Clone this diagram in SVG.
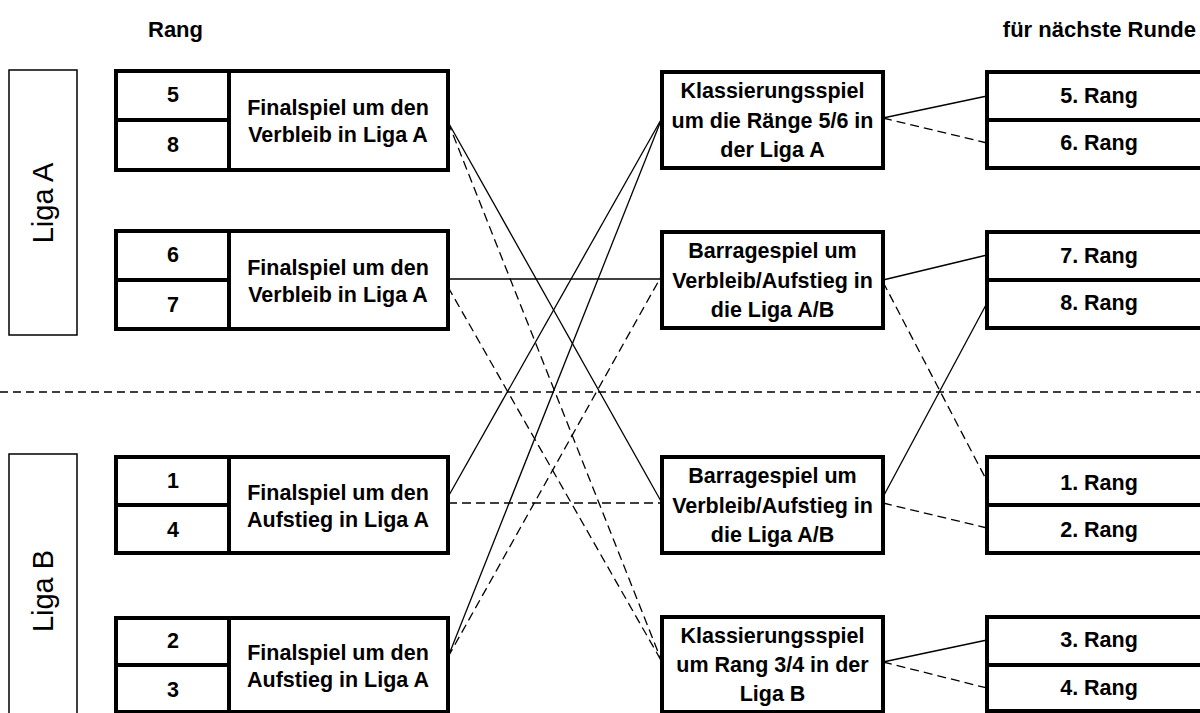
<svg xmlns="http://www.w3.org/2000/svg" width="1200" height="713" viewBox="0 0 1200 713">
<style>
.box{fill:#fff;stroke:#000;stroke-width:4}
.div{stroke:#000;stroke-width:4}
.liga{fill:#fff;stroke:#000;stroke-width:1.5}
.t{font-family:"Liberation Sans",Arial,sans-serif;font-weight:bold;font-size:21.5px;fill:#000;text-anchor:middle}
.h{font-family:"Liberation Sans",Arial,sans-serif;font-weight:bold;font-size:22px;fill:#000}
.lt{font-family:"Liberation Sans",Arial,sans-serif;font-size:29px;fill:#000;text-anchor:middle}
.c{stroke:#000;stroke-width:1.3;fill:none}
.d{stroke:#000;stroke-width:1.3;fill:none;stroke-dasharray:9 5}
.sep{stroke:#000;stroke-width:1.5;stroke-dasharray:8 5}
</style>
<rect width="1200" height="713" fill="#fff"/>
<text class="h" x="148" y="37">Rang</text>
<text class="h" x="1196" y="37" text-anchor="end">für nächste Runde</text>
<line class="sep" x1="0" y1="392" x2="1200" y2="392"/>
<g id="ligaA"><rect class="liga" x="9" y="70" width="68" height="265"/><text class="lt" transform="translate(53,203) rotate(-90)">Liga A</text></g>
<g id="ligaB"><rect class="liga" x="9" y="454" width="68" height="280"/><text class="lt" transform="translate(53,591) rotate(-90)">Liga B</text></g>
<g id="connectors">
<line class="c" x1="448" y1="122" x2="662" y2="503"/>
<line class="c" x1="448" y1="279" x2="662" y2="279"/>
<line class="c" x1="448" y1="497" x2="662" y2="118"/>
<line class="c" x1="448" y1="657" x2="662" y2="118"/>
<line class="d" x1="448" y1="122" x2="662" y2="662"/>
<line class="d" x1="448" y1="287" x2="662" y2="662"/>
<line class="d" x1="448" y1="503" x2="662" y2="503"/>
<line class="d" x1="448" y1="657" x2="662" y2="275"/>
<line class="c" x1="883" y1="118" x2="987" y2="96"/>
<line class="d" x1="883" y1="118" x2="987" y2="143"/>
<line class="c" x1="883" y1="280" x2="987" y2="255"/>
<line class="d" x1="883" y1="282" x2="987" y2="481"/>
<line class="c" x1="883" y1="497" x2="987" y2="303"/>
<line class="d" x1="883" y1="503" x2="987" y2="528"/>
<line class="c" x1="883" y1="662" x2="987" y2="640"/>
<line class="d" x1="883" y1="662" x2="987" y2="688"/>
</g>
<g id="L1"><rect class="box" x="116" y="71" width="332" height="99"/><line class="div" x1="116" y1="120" x2="229" y2="120"/><line class="div" x1="229" y1="71" x2="229" y2="170"/>
<text class="t" x="173" y="102">5</text><text class="t" x="173" y="152">8</text>
<text class="t" x="338" y="115">Finalspiel um den</text><text class="t" x="338" y="142">Verbleib in Liga A</text></g>
<g id="L2"><rect class="box" x="116" y="231" width="332" height="98"/><line class="div" x1="116" y1="280" x2="229" y2="280"/><line class="div" x1="229" y1="231" x2="229" y2="329"/>
<text class="t" x="173" y="262">6</text><text class="t" x="173" y="312">7</text>
<text class="t" x="338" y="275">Finalspiel um den</text><text class="t" x="338" y="302">Verbleib in Liga A</text></g>
<g id="L3"><rect class="box" x="116" y="457" width="332" height="96"/><line class="div" x1="116" y1="505" x2="229" y2="505"/><line class="div" x1="229" y1="457" x2="229" y2="553"/>
<text class="t" x="173" y="488">1</text><text class="t" x="173" y="537">4</text>
<text class="t" x="338" y="500">Finalspiel um den</text><text class="t" x="338" y="527">Aufstieg in Liga A</text></g>
<g id="L4"><rect class="box" x="116" y="618" width="332" height="94"/><line class="div" x1="116" y1="665" x2="229" y2="665"/><line class="div" x1="229" y1="618" x2="229" y2="712"/>
<text class="t" x="173" y="648">2</text><text class="t" x="173" y="697">3</text>
<text class="t" x="338" y="660">Finalspiel um den</text><text class="t" x="338" y="687">Aufstieg in Liga A</text></g>
<g id="M1"><rect class="box" x="662" y="72" width="221" height="96"/>
<text class="t" x="772.5" y="98">Klassierungsspiel</text><text class="t" x="772.5" y="128">um die Ränge 5/6 in</text><text class="t" x="772.5" y="157">der Liga A</text></g>
<g id="M2"><rect class="box" x="662" y="232" width="221" height="96"/>
<text class="t" x="772.5" y="258">Barragespiel um</text><text class="t" x="772.5" y="288">Verbleib/Aufstieg in</text><text class="t" x="772.5" y="317">die Liga A/B</text></g>
<g id="M3"><rect class="box" x="662" y="457" width="221" height="96"/>
<text class="t" x="772.5" y="483">Barragespiel um</text><text class="t" x="772.5" y="513">Verbleib/Aufstieg in</text><text class="t" x="772.5" y="542">die Liga A/B</text></g>
<g id="M4"><rect class="box" x="662" y="617" width="221" height="95"/>
<text class="t" x="772.5" y="643">Klassierungsspiel</text><text class="t" x="772.5" y="672">um Rang 3/4 in der</text><text class="t" x="772.5" y="701">Liga B</text></g>
<g id="R1"><rect class="box" x="987" y="72" width="230" height="96"/><line class="div" x1="987" y1="120" x2="1217" y2="120"/>
<text class="t" x="1099" y="103">5. Rang</text><text class="t" x="1099" y="150">6. Rang</text></g>
<g id="R2"><rect class="box" x="987" y="232" width="230" height="96"/><line class="div" x1="987" y1="280" x2="1217" y2="280"/>
<text class="t" x="1099" y="263">7. Rang</text><text class="t" x="1099" y="310">8. Rang</text></g>
<g id="R3"><rect class="box" x="987" y="457" width="230" height="96"/><line class="div" x1="987" y1="505" x2="1217" y2="505"/>
<text class="t" x="1099" y="490">1. Rang</text><text class="t" x="1099" y="537">2. Rang</text></g>
<g id="R4"><rect class="box" x="987" y="617" width="230" height="94"/><line class="div" x1="987" y1="665" x2="1217" y2="665"/>
<text class="t" x="1099" y="647">3. Rang</text><text class="t" x="1099" y="695">4. Rang</text></g>
</svg>
